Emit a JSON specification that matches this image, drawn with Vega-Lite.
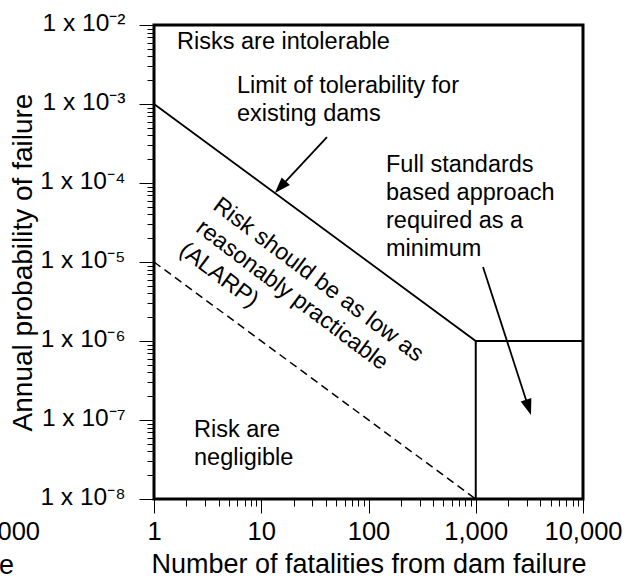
{
  "$schema": "https://vega.github.io/schema/vega-lite/v6.json",
  "width": 429,
  "height": 474,
  "autosize": {"type": "none"},
  "padding": {"left": 154, "top": 25, "right": 52, "bottom": 84},
  "background": "white",
  "config": {
    "view": {"stroke": "black", "strokeWidth": 3},
    "font": "Liberation Sans",
    "axis": {"grid": false, "domain": false, "labelColor": "black", "titleColor": "black", "tickColor": "black", "tickWidth": 1, "titleFontWeight": "normal", "labelFont": "Liberation Sans", "titleFont": "Liberation Sans", "labelOverlap": false, "labelFlush": false}
  },
  "datasets": {
    "lines": [
      {"id": "limit", "x": 1, "y": 0.001},
      {"id": "limit", "x": 1000, "y": 0.000001},
      {"id": "limit", "x": 10000, "y": 0.000001},
      {"id": "vert", "x": 1000, "y": 1e-8},
      {"id": "vert", "x": 1000, "y": 0.000001},
      {"id": "neg", "x": 1, "y": 0.00001},
      {"id": "neg", "x": 1000, "y": 1e-8},
      {"id": "arrow1", "x": 41, "y": 0.000382},
      {"id": "arrow1", "x": 15.3, "y": 0.0000906},
      {"id": "arrow2", "x": 1169, "y": 0.00000865},
      {"id": "arrow2", "x": 3083, "y": 1.486e-7}
    ],
    "heads": [
      {"id": "arrow1", "x": 13.4, "y": 0.0000747},
      {"id": "arrow2", "x": 3273, "y": 1.156e-7}
    ],
    "notes": [
      {"x": 1.639, "y": 0.00497, "t": "Risks are intolerable"},
      {"x": 5.94, "y": 0.001377, "t": "Limit of tolerability for\nexisting dams"},
      {"x": 145.6, "y": 0.0001378, "t": "Full standards\nbased approach\nrequired as a\nminimum"},
      {"x": 2.36, "y": 6.09e-8, "t": "Risk are\nnegligible"}
    ],
    "rotated": [
      {"x": 3.45, "y": 0.0000479, "t": "Risk should be as low as\nreasonably practicable\n(ALARP)"}
    ],
    "frag1": [{"x": 0.0865, "y": 3.03e-9, "t": "10,000"}],
    "frag2": [{"x": 0.0495, "y": 1.125e-9, "t": "Number of fatalities from dam failure"}]
  },
  "encoding": {
    "x": {
      "field": "x", "type": "quantitative",
      "scale": {"type": "log", "domain": [1, 10000], "nice": false},
      "axis": {
        "title": "Number of fatalities from dam failure",
        "values": [1,2,3,4,5,6,7,8,9,10,20,30,40,50,60,70,80,90,100,200,300,400,500,600,700,800,900,1000,2000,3000,4000,5000,6000,7000,8000,9000,10000],
        "labelExpr": "abs(log(datum.value)/LN10 - round(log(datum.value)/LN10)) < 0.001 ? format(datum.value, ',') : ''",
        "tickSize": {"condition": {"test": "abs(log(datum.value)/LN10 - round(log(datum.value)/LN10)) < 0.001", "value": 14}, "value": 7},
        "labelFontSize": 25.5,
        "titleFontSize": 27,
        "labelPadding": 6,
        "titlePadding": 7
      }
    },
    "y": {
      "field": "y", "type": "quantitative",
      "scale": {"type": "log", "domain": [1e-8, 0.01], "nice": false},
      "axis": {
        "title": "Annual probability of failure",
        "values": [1e-8,2e-8,3e-8,4e-8,5e-8,6e-8,7e-8,8e-8,9e-8,1e-7,2e-7,3e-7,4e-7,5e-7,6e-7,7e-7,8e-7,9e-7,1e-6,2e-6,3e-6,4e-6,5e-6,6e-6,7e-6,8e-6,9e-6,1e-5,2e-5,3e-5,4e-5,5e-5,6e-5,7e-5,8e-5,9e-5,1e-4,2e-4,3e-4,4e-4,5e-4,6e-4,7e-4,8e-4,9e-4,1e-3,2e-3,3e-3,4e-3,5e-3,6e-3,7e-3,8e-3,9e-3,1e-2],
        "labelExpr": "abs(log(datum.value)/LN10 - round(log(datum.value)/LN10)) < 0.001 ? '1 x 10' + ['⁻⁸','⁻⁷','⁻⁶','⁻⁵','⁻⁴','⁻³','⁻²'][round(log(datum.value)/LN10)+8] : ''",
        "tickSize": {"condition": {"test": "abs(log(datum.value)/LN10 - round(log(datum.value)/LN10)) < 0.001", "value": 15}, "value": 7},
        "labelFontSize": 24.5,
        "labelOffset": -2,
        "titleFontSize": 28,
        "labelPadding": 14,
        "titlePadding": 2
      }
    }
  },
  "layer": [
    {
      "data": {"name": "lines"},
      "transform": [{"filter": "datum.id == 'limit'"}],
      "mark": {"type": "line", "color": "black", "strokeWidth": 1.8}
    },
    {
      "data": {"name": "lines"},
      "transform": [{"filter": "datum.id == 'vert'"}],
      "mark": {"type": "line", "color": "black", "strokeWidth": 2}
    },
    {
      "data": {"name": "lines"},
      "transform": [{"filter": "datum.id == 'neg'"}],
      "mark": {"type": "line", "color": "black", "strokeWidth": 1.5, "strokeDash": [8, 5]}
    },
    {
      "data": {"name": "lines"},
      "transform": [{"filter": "indexof(datum.id, 'arrow') == 0"}],
      "mark": {"type": "line", "color": "black", "strokeWidth": 1.8},
      "encoding": {"detail": {"field": "id"}}
    },
    {
      "data": {"name": "heads"},
      "transform": [{"filter": "datum.id == 'arrow1'"}],
      "mark": {"type": "point", "shape": "M0,0L0.7,2L-0.7,2Z", "filled": true, "fill": "black", "strokeWidth": 0, "opacity": 1, "size": 256, "angle": 222.9}
    },
    {
      "data": {"name": "heads"},
      "transform": [{"filter": "datum.id == 'arrow2'"}],
      "mark": {"type": "point", "shape": "M0,0L0.7,2L-0.7,2Z", "filled": true, "fill": "black", "strokeWidth": 0, "opacity": 1, "size": 256, "angle": 162}
    },
    {
      "data": {"name": "notes"},
      "mark": {"type": "text", "align": "left", "baseline": "alphabetic", "fontSize": 23.5, "lineBreak": "\n", "lineHeight": 28, "color": "black"},
      "encoding": {"text": {"field": "t"}}
    },
    {
      "data": {"name": "rotated"},
      "mark": {"type": "text", "align": "left", "baseline": "alphabetic", "fontSize": 23.3, "lineBreak": "\n", "lineHeight": 28, "angle": 37, "color": "black"},
      "encoding": {"text": {"field": "t"}}
    },
    {
      "data": {"name": "frag1"},
      "mark": {"type": "text", "align": "right", "baseline": "alphabetic", "fontSize": 25.5, "color": "black"},
      "encoding": {"text": {"field": "t"}}
    },
    {
      "data": {"name": "frag2"},
      "mark": {"type": "text", "align": "right", "baseline": "alphabetic", "fontSize": 27, "color": "black"},
      "encoding": {"text": {"field": "t"}}
    }
  ]
}
